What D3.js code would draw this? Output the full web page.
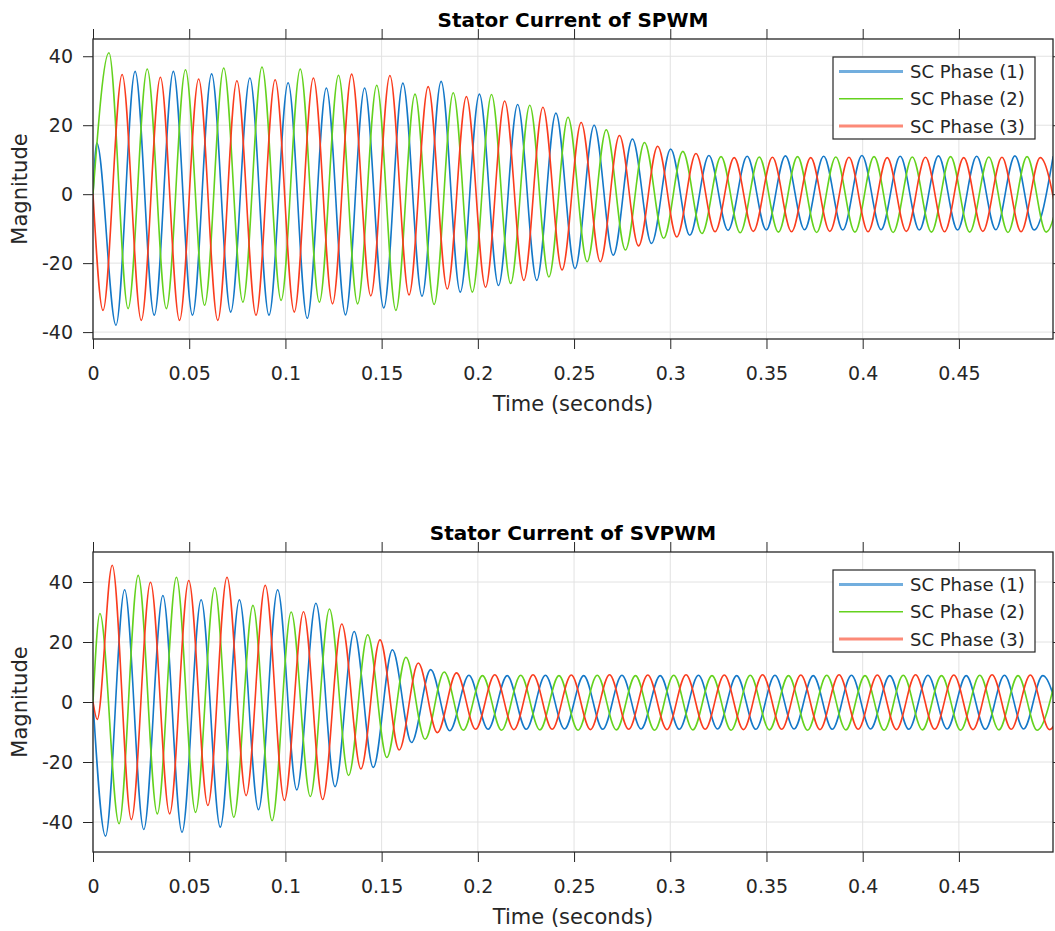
<!DOCTYPE html>
<html lang="en">
<head>
<meta charset="UTF-8">
<title>Stator Current</title>
<script src="https://cdn.jsdelivr.net/npm/d3@7"></script>
<style>
    body { margin: 0; background: #fff; }
    svg text { font-family: "DejaVu Sans", sans-serif; fill: #262626; }
    .axis path, .axis line { stroke: #262626; }
    .grid line { stroke: #e2e2e2; stroke-width: 1; }
</style>
</head>
<body>
<svg id="chart" width="1055" height="931"></svg>
<script>
// tick values / labels
const timeTicks = [0, 0.05, 0.1, 0.15, 0.2, 0.25, 0.3, 0.35, 0.4, 0.45];
const timeTickLabels = ["0", "0.05", "0.1", "0.15", "0.2", "0.25", "0.3", "0.35", "0.4", "0.45"];
const magnitudeTicks = [-40, -20, 0, 20, 40];
const magnitudeTickLabels = ["-40", "-20", "0", "20", "40"];
const seriesNames = ["SC Phase (1)", "SC Phase (2)", "SC Phase (3)"];
const panelTitles = ["Stator Current of SPWM", "Stator Current of SVPWM"];

// half a period of the stator current (s), the extrema below are this far apart
const halfPeriod = 0.00994;

// SPWM: time of the first extremum of each phase, then the successive peaks/troughs
const spwmFirstExtremum = [0.002, 0.0083, 0.0052];
const spwmPhase1 = [14.8, -38.0, 35.6, -35.1, 35.6, -35.1, 34.9, -34.2, 33.7, -35.1, 32.3, -36.0, 30.8, -35.0, 30.8, -33.0,
    32.2, -29.6, 32.7, -28.4, 29.0, -26.5, 26.0, -25.0, 23.5, -21.6, 20.0, -17.7, 16.0, -14.3, 13.1, -11.9, 11.2, -10.5,
    11.0, -10.4, 11.1, -10.3, 11.0, -10.4, 11.2, -10.3, 11.0, -10.4, 11.1, -10.4, 11.0, -10.3, 11.1, -10.4, 11.0];
const spwmPhase2 = [41.0, -33.2, 36.3, -33.2, 36.1, -32.2, 36.6, -31.3, 36.9, -30.8, 36.3, -31.3, 34.5, -31.8, 31.6, -33.7,
    29.0, -32.0, 29.4, -28.4, 28.9, -25.9, 25.8, -24.0, 22.3, -19.6, 18.7, -16.2, 15.0, -12.8, 12.4, -11.4, 10.9, -11.2,
    10.8, -11.0, 10.9, -11.1, 10.8, -11.0, 10.9, -11.1, 10.8, -11.0, 10.9, -11.0, 10.8, -11.1, 10.9, -11.0, 10.8];
const spwmPhase3 = [-33.7, 34.7, -36.6, 33.9, -36.6, 33.4, -36.6, 32.9, -35.1, 33.2, -34.2, 33.7, -31.8, 34.8, -29.5, 34.4,
    -29.2, 31.2, -27.5, 28.3, -27.0, 27.0, -25.0, 25.2, -22.0, 20.8, -19.6, 17.0, -15.0, 13.9, -12.4, 11.8, -10.9, 10.6,
    -10.8, 10.7, -10.9, 10.6, -10.8, 10.7, -10.9, 10.6, -10.8, 10.7, -10.9, 10.6, -10.8, 10.7, -10.9, 10.6, -10.8];

// SVPWM
const svpwmFirstExtremum = [0.0065, 0.0036, 0.0100];
const svpwmPhase1 = [-44.7, 37.4, -42.5, 35.5, -43.4, 34.1, -41.7, 34.1, -35.9, 37.4, -29.3, 32.9, -28.2, 23.5, -21.8, 17.4,
    -13.5, 10.8, -9.6, 8.9, -9.1, 8.8, -9.1, 8.9, -9.0, 8.8, -9.1, 8.9, -9.0, 8.8, -9.1, 8.9, -9.0, 8.8, -9.1, 8.9,
    -9.0, 8.8, -9.1, 8.9, -9.0, 8.8, -9.1, 8.9, -9.0, 8.8, -9.1, 8.9, -9.0, 8.8, -9.1];
const svpwmPhase2 = [29.5, -40.6, 42.2, -37.3, 41.6, -36.8, 38.1, -38.4, 32.2, -39.6, 30.0, -31.5, 31.0, -24.5, 22.4, -18.5,
    14.9, -12.4, 10.0, -9.4, 8.8, -9.4, 8.9, -9.3, 8.8, -9.4, 8.9, -9.3, 8.8, -9.4, 8.9, -9.3, 8.8, -9.4, 8.9, -9.3,
    8.8, -9.4, 8.9, -9.3, 8.8, -9.4, 8.9, -9.3, 8.8, -9.4, 8.9, -9.3, 8.8, -9.4, 8.9];
const svpwmPhase3 = [45.6, -39.2, 39.9, -37.3, 40.5, -34.5, 41.6, -31.2, 38.9, -32.8, 30.1, -32.5, 26.0, -22.3, 20.7, -16.0,
    13.0, -10.2, 9.7, -9.1, 9.1, -9.2, 9.1, -9.1, 9.0, -9.2, 9.1, -9.1, 9.0, -9.2, 9.1, -9.1, 9.0, -9.2, 9.1, -9.1,
    9.0, -9.2, 9.1, -9.1, 9.0, -9.2, 9.1, -9.1, 9.0, -9.2, 9.1, -9.1, 9.0, -9.2, 9.1];

// points before the first extremum: [time, value]
const spwmLeadIn = [[[0, 0]], [[0, 0]], [[0, 0]]];
const svpwmLeadIn = [[[0, 0]], [[0, 0]], [[0, 0], [0.0022, -5.8]]];

const colors = ["#1478c8", "#64d21e", "#fa3c1e"];

function toPoints(leadIn, t0, values) {
    return leadIn.concat(values.map((v, i) => [t0 + i * halfPeriod, v]));
}

let svg = d3.select("#chart");
let left = 93, right = 1053;

let panels = [
    {
        title: panelTitles[0], top: 39, bottom: 339, yDomain: [-42, 45],
        series: [
            toPoints(spwmLeadIn[0], spwmFirstExtremum[0], spwmPhase1),
            toPoints(spwmLeadIn[1], spwmFirstExtremum[1], spwmPhase2),
            toPoints(spwmLeadIn[2], spwmFirstExtremum[2], spwmPhase3)
        ]
    },
    {
        title: panelTitles[1], top: 552, bottom: 852, yDomain: [-50, 50],
        series: [
            toPoints(svpwmLeadIn[0], svpwmFirstExtremum[0], svpwmPhase1),
            toPoints(svpwmLeadIn[1], svpwmFirstExtremum[1], svpwmPhase2),
            toPoints(svpwmLeadIn[2], svpwmFirstExtremum[2], svpwmPhase3)
        ]
    }
];

panels.forEach((p, idx) => {
    let xScale = d3.scaleLinear().domain([0, 0.4989]).range([left, right]);
    let yScale = d3.scaleLinear().domain(p.yDomain).range([p.bottom, p.top]);
    let g = svg.append("g");

    // grid
    let grid = g.append("g").attr("class", "grid");
    grid.selectAll(".gx").data(timeTicks).enter().append("line")
        .attr("x1", d => xScale(d)).attr("x2", d => xScale(d))
        .attr("y1", p.top).attr("y2", p.bottom);
    grid.selectAll(".gy").data(magnitudeTicks).enter().append("line")
        .attr("x1", left).attr("x2", right)
        .attr("y1", d => yScale(d)).attr("y2", d => yScale(d));

    // clip
    let clipId = "clip" + idx;
    svg.append("clipPath").attr("id", clipId)
        .append("rect")
        .attr("x", left).attr("y", p.top)
        .attr("width", right - left).attr("height", p.bottom - p.top);

    let line = d3.line()
        .x(d => xScale(d[0]))
        .y(d => yScale(d[1]))
        .curve(d3.curveMonotoneX);

    g.append("g").attr("clip-path", "url(#" + clipId + ")")
        .selectAll("path")
        .data(p.series)
        .enter()
        .append("path")
        .attr("d", d => line(d))
        .attr("fill", "none")
        .attr("stroke", (d, i) => colors[i])
        .attr("stroke-width", 1.6)
        .attr("stroke-linejoin", "round");

    // axes, ticks pointing out like the original
    let xAxis = d3.axisBottom(xScale).tickValues(timeTicks)
        .tickFormat((d, i) => timeTickLabels[i]).tickSize(10).tickPadding(18).tickSizeOuter(0);
    let yAxis = d3.axisLeft(yScale).tickValues(magnitudeTicks)
        .tickFormat((d, i) => magnitudeTickLabels[i]).tickSize(10).tickPadding(10).tickSizeOuter(0);

    g.append("g").attr("class", "axis")
        .attr("transform", "translate(0," + p.bottom + ")")
        .call(xAxis);
    g.append("g").attr("class", "axis")
        .attr("transform", "translate(0," + p.top + ")")
        .call(d3.axisTop(xScale).tickValues(timeTicks).tickSize(10).tickFormat("").tickSizeOuter(0));
    g.append("g").attr("class", "axis")
        .attr("transform", "translate(" + left + ",0)")
        .call(yAxis);
    g.append("g").attr("class", "axis")
        .attr("transform", "translate(" + right + ",0)")
        .call(d3.axisRight(yScale).tickValues(magnitudeTicks).tickSize(10).tickFormat("").tickSizeOuter(0));

    g.selectAll(".axis").attr("font-family", null).attr("font-size", null);
    g.selectAll(".axis .domain").remove();
    g.selectAll(".axis text").style("font-size", "19px").attr("fill", "#262626");

    g.append("rect")
        .attr("x", left).attr("y", p.top)
        .attr("width", right - left).attr("height", p.bottom - p.top)
        .attr("fill", "none").attr("stroke", "#262626").attr("stroke-width", 1.3);

    // labels
    g.append("text")
        .attr("x", (left + right) / 2).attr("y", p.top - 12)
        .attr("text-anchor", "middle")
        .style("font-size", "20px").style("font-weight", "bold").style("fill", "#000")
        .text(p.title);
    g.append("text")
        .attr("x", (left + right) / 2).attr("y", p.bottom + 72)
        .attr("text-anchor", "middle")
        .style("font-size", "21px")
        .text("Time (seconds)");
    g.append("text")
        .attr("transform", "translate(27," + (p.top + p.bottom) / 2 + ") rotate(-90)")
        .attr("text-anchor", "middle")
        .style("font-size", "21px")
        .text("Magnitude");

    // legend
    let lg = g.append("g").attr("transform", "translate(833," + (p.top + 18) + ")");
    lg.append("rect").attr("width", 202).attr("height", 82)
        .attr("fill", "#fff").attr("stroke", "#262626").attr("stroke-width", 1.2);
    seriesNames.forEach((name, i) => {
        let y = 14.5 + i * 27.3;
        lg.append("line")
            .attr("x1", 6).attr("x2", 70).attr("y1", y).attr("y2", y)
            .attr("stroke", colors[i])
            .attr("stroke-width", i === 1 ? 1.6 : 3)
            .attr("stroke-opacity", i === 1 ? 1 : 0.6);
        lg.append("text")
            .attr("x", 77).attr("y", y + 6.5)
            .style("font-size", "18px")
            .text(name);
    });
});
</script>
</body>
</html>
